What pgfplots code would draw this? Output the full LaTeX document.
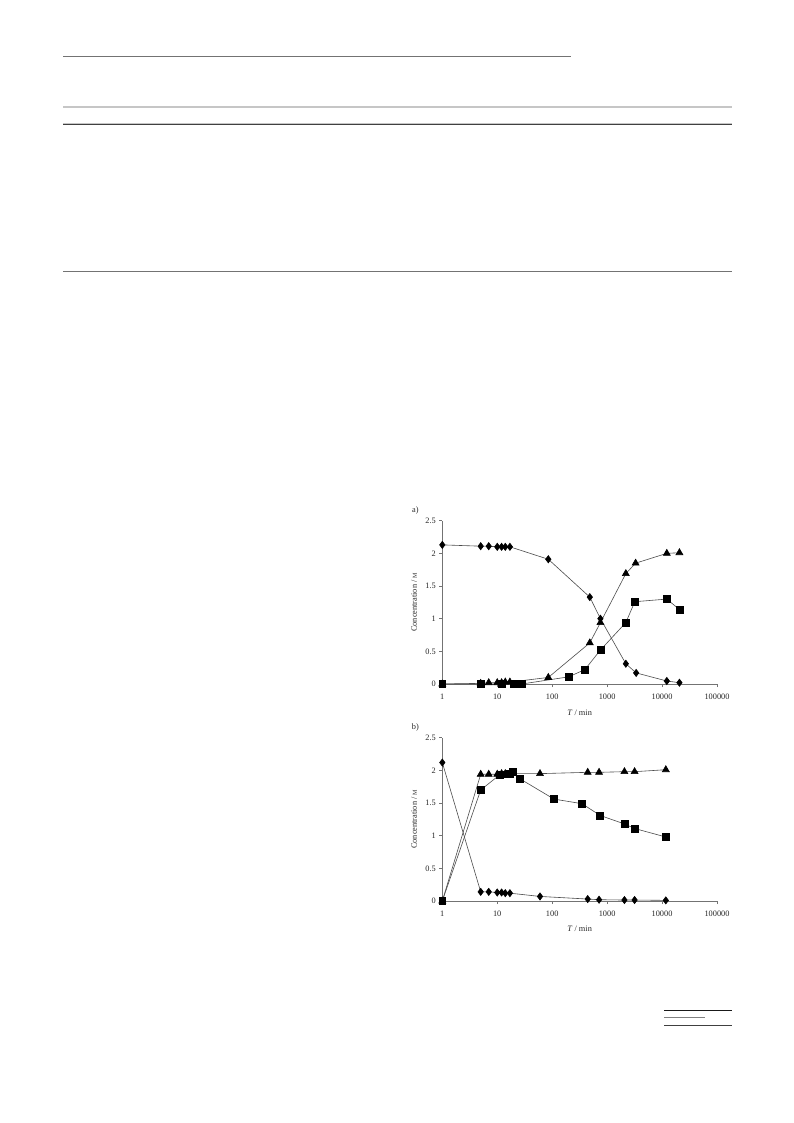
\documentclass[border=0pt]{standalone}
\usepackage{pgfplots}
\pgfplotsset{compat=1.18}
\usepackage{fontspec}
\setmainfont{Liberation Serif}
\definecolor{axgray}{gray}{0.45}
\definecolor{lngray}{gray}{0.3}
\pgfplotsset{
  dia/.style={lngray, line width=0.6pt, mark=diamond*, mark size=3.6pt, mark options={black, fill=black, solid}},
  sqr/.style={lngray, line width=0.6pt, mark=square*, mark size=3.4pt, mark options={black, fill=black, solid}},
  tri/.style={lngray, line width=0.6pt, mark=triangle*, mark size=4pt, mark options={black, fill=black, solid}},
}
\begin{document}
\begin{tikzpicture}
\useasboundingbox[fill=white] (0,0) rectangle (793pt,-1123pt);
% page rules
\draw[axgray, line width=1pt] (63pt,-57pt) -- (571pt,-57pt);
\draw[gray!45, line width=1.5pt] (63pt,-107pt) -- (732pt,-107pt);
\draw[gray!45, line width=1pt] (63pt,-123.3pt) -- (732pt,-123.3pt);
\draw[black!75, line width=1pt] (63pt,-125pt) -- (732pt,-125pt);
\draw[axgray, line width=1pt] (63pt,-271pt) -- (732pt,-271pt);
\draw[black!90, line width=1pt] (664pt,-1010.3pt) -- (732pt,-1010.3pt);
\draw[gray, line width=1pt] (664pt,-1017.3pt) -- (705pt,-1017.3pt);
\draw[black!75, line width=1pt] (664pt,-1025.3pt) -- (732pt,-1025.3pt);

% plot a
\begin{axis}[
    at={(442.3pt,-684pt)}, anchor=origin,
    scale only axis, width=274.7pt, height=163.3pt,
    xmode=log, xmin=1, xmax=100000, ymin=0, ymax=2.5,
    axis x line=bottom, axis y line=left,
    axis line style={-, axgray, line width=0.6pt},
    every tick/.style={axgray, line width=0.6pt},
    tick align=outside, major tick length=3pt,
    xminorticks=false,
    xtick={1,10,100,1000,10000,100000},
    xticklabels={1,10,100,1000,10000,100000},
    ytick={0,0.5,1,1.5,2,2.5},
    yticklabels={0,0.5,1,1.5,2,2.5},
    tick label style={font=\fontsize{8.3}{9}\selectfont, text=black!85},
    xticklabel style={yshift=-3pt},
    xlabel={\textit{T} / min},
    ylabel={Concentration / {\fontsize{6}{6}\selectfont M}},
    label style={font=\fontsize{8.3}{9}\selectfont, text=black!85},
    xlabel style={at={(axis description cs:0.5,-0.175)}, anchor=center},
    ylabel style={at={(axis description cs:-0.102,0.5)}, anchor=center},
    clip=false]
\addplot[dia] coordinates {(1,2.13) (5,2.11) (7,2.11) (10,2.10) (12,2.10) (14,2.10) (17,2.10) (85,1.91) (484,1.33) (755,1.00) (2190,0.31) (3375,0.17) (12200,0.046) (20700,0.02)};
\addplot[tri] coordinates {(1,0) (5,0.01) (7,0.02) (10,0.02) (12,0.02) (14,0.03) (17,0.03) (85,0.10) (484,0.63) (755,0.94) (2190,1.69) (3300,1.85) (12200,2.0) (20700,2.01)};
\addplot[sqr] coordinates {(1,0) (5,0) (12,0) (20,0) (28,0) (200,0.11) (393,0.22) (755,0.52) (2190,0.94) (3190,1.26) (12200,1.30) (20700,1.14)};
\node[font=\fontsize{8.3}{9}\selectfont, text=black!85] at (rel axis cs:-0.098,1.06) {a)};
\end{axis}

% plot b
\begin{axis}[
    at={(442.3pt,-901pt)}, anchor=origin,
    scale only axis, width=274.7pt, height=163.3pt,
    xmode=log, xmin=1, xmax=100000, ymin=0, ymax=2.5,
    axis x line=bottom, axis y line=left,
    axis line style={-, axgray, line width=0.6pt},
    every tick/.style={axgray, line width=0.6pt},
    tick align=outside, major tick length=3pt,
    xminorticks=false,
    xtick={1,10,100,1000,10000,100000},
    xticklabels={1,10,100,1000,10000,100000},
    ytick={0,0.5,1,1.5,2,2.5},
    yticklabels={0,0.5,1,1.5,2,2.5},
    tick label style={font=\fontsize{8.3}{9}\selectfont, text=black!85},
    xticklabel style={yshift=-3pt},
    xlabel={\textit{T} / min},
    ylabel={Concentration / {\fontsize{6}{6}\selectfont M}},
    label style={font=\fontsize{8.3}{9}\selectfont, text=black!85},
    xlabel style={at={(axis description cs:0.5,-0.17)}, anchor=center},
    ylabel style={at={(axis description cs:-0.102,0.5)}, anchor=center},
    clip=false]
\addplot[dia] coordinates {(1,2.12) (5,0.14) (7,0.14) (10,0.13) (12,0.13) (14,0.12) (17,0.12) (60,0.07) (443,0.03) (713,0.02) (2065,0.015) (3160,0.015) (11700,0.01)};
\addplot[tri] coordinates {(1,0) (5,1.94) (7,1.94) (10,1.94) (12,1.95) (14,1.95) (17,1.95) (60,1.95) (443,1.97) (713,1.97) (2065,1.98) (3160,1.98) (11700,2.01)};
\addplot[sqr] coordinates {(1,0) (5,1.70) (11,1.93) (12,1.94) (14,1.94) (17,1.95) (19,1.98) (26,1.87) (108,1.56) (349,1.49) (745,1.31) (2065,1.18) (3160,1.11) (11700,0.98)};
\node[font=\fontsize{8.3}{9}\selectfont, text=black!85] at (rel axis cs:-0.098,1.06) {b)};
\end{axis}
\end{tikzpicture}
\end{document}
